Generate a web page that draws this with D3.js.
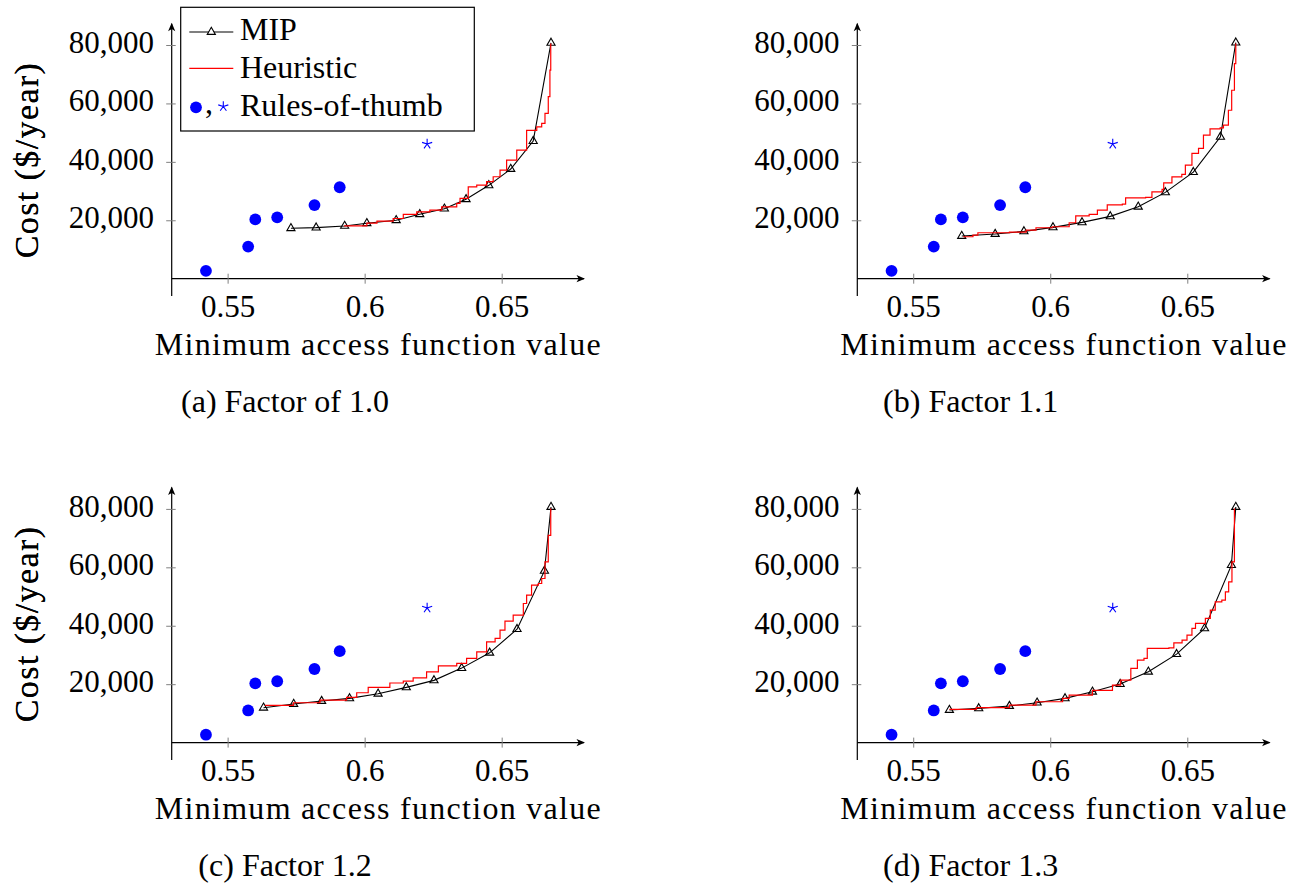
<!DOCTYPE html>
<html>
<head>
<meta charset="utf-8">
<script src="https://cdn.jsdelivr.net/npm/d3@7"></script>
<style>
  html, body { margin: 0; padding: 0; background: #fff; }
  svg { display: block; }
</style>
</head>
<body>
<script>
// Rules-of-thumb solutions (same in every panel)
const dotX = [0.5421, 0.5575, 0.5601, 0.5681, 0.5817, 0.5909];
const dotY = [2700, 11000, 20300, 21000, 25200, 31300];
const starX = [0.6228];
const starY = [46100];

// (a) Factor of 1.0
const mipXA = [0.5731, 0.5823, 0.5927, 0.6008, 0.6115, 0.6201, 0.6291, 0.6370, 0.6453, 0.6533, 0.6615, 0.6680];
const mipYA = [17260, 17470, 18050, 18970, 20000, 22050, 23970, 27180, 31960, 37540, 47110, 80720];
const heurXA = [0.5925, 0.6008, 0.6045, 0.6104, 0.6141, 0.6190, 0.6238, 0.6281, 0.6336, 0.6348, 0.6378, 0.6409, 0.6445, 0.6469, 0.6494, 0.6518, 0.6555, 0.6591, 0.6591, 0.6628, 0.6646, 0.6658, 0.6670, 0.6676, 0.6679];
const heurYA = [18100, 19000, 19700, 20600, 22000, 22900, 23500, 24600, 25800, 27500, 31400, 32000, 33200, 34900, 37200, 40600, 44000, 48500, 50800, 52000, 53200, 56600, 62300, 71400, 80500];

// (b) Factor 1.1
const mipXB = [0.5677, 0.5799, 0.5904, 0.6010, 0.6116, 0.6219, 0.6321, 0.6420, 0.6522, 0.6621, 0.6677];
const mipYB = [14600, 15280, 16200, 17570, 19280, 21330, 24620, 29540, 36480, 48550, 80820];
const heurXB = [0.5682, 0.5718, 0.5736, 0.5851, 0.5912, 0.5948, 0.6008, 0.6069, 0.6093, 0.6142, 0.6172, 0.6208, 0.6263, 0.6275, 0.6348, 0.6371, 0.6408, 0.6414, 0.6444, 0.6480, 0.6493, 0.6517, 0.6541, 0.6559, 0.6583, 0.6620, 0.6632, 0.6650, 0.6662, 0.6672, 0.6677];
const heurYB = [14360, 14940, 15730, 15970, 16650, 17440, 17780, 19150, 21540, 22020, 23490, 25300, 25540, 27690, 27830, 29740, 30560, 32820, 34870, 35690, 38870, 42870, 44580, 49130, 51280, 51620, 52550, 57670, 64510, 73640, 80480];

// (c) Factor 1.2
const mipXC = [0.5631, 0.5741, 0.5843, 0.5945, 0.6049, 0.6152, 0.6253, 0.6354, 0.6456, 0.6556, 0.6656, 0.6680];
const mipYC = [11930, 13200, 14220, 15140, 16720, 18900, 21300, 25500, 30740, 38840, 58770, 80650];
const heurXC = [0.5636, 0.5740, 0.5837, 0.5934, 0.5971, 0.6013, 0.6092, 0.6141, 0.6177, 0.6226, 0.6269, 0.6336, 0.6372, 0.6409, 0.6445, 0.6476, 0.6494, 0.6512, 0.6542, 0.6579, 0.6591, 0.6609, 0.6634, 0.6646, 0.6658, 0.6670, 0.6679];
const heurYC = [12750, 13650, 14560, 15480, 17060, 18900, 20400, 21060, 22190, 24240, 26290, 27110, 28820, 31080, 34500, 35660, 38500, 41570, 43620, 47620, 50460, 53880, 54460, 56170, 61850, 70970, 80100];

// (d) Factor 1.3
const mipXD = [0.5632, 0.5739, 0.5851, 0.5952, 0.6054, 0.6154, 0.6255, 0.6358, 0.6461, 0.6563, 0.6661, 0.6677];
const mipYD = [11150, 11720, 12510, 13650, 15140, 17400, 20030, 24240, 30290, 39080, 60720, 80650];
const heurXD = [0.5632, 0.5730, 0.5851, 0.5948, 0.6045, 0.6069, 0.6154, 0.6227, 0.6257, 0.6294, 0.6318, 0.6342, 0.6354, 0.6433, 0.6451, 0.6481, 0.6499, 0.6517, 0.6530, 0.6566, 0.6584, 0.6602, 0.6626, 0.6639, 0.6651, 0.6663, 0.6672];
const heurYD = [11380, 11940, 12850, 13990, 15140, 16270, 17900, 19690, 21400, 25400, 28240, 28820, 32240, 32440, 34150, 35080, 36790, 39080, 40790, 42500, 45330, 48170, 48750, 51590, 55010, 61850, 80100];

// Axis ticks and text
const xTicks = [0.55, 0.6, 0.65];
const yTicks = [20000, 40000, 60000, 80000];
const captions = ["(a) Factor of 1.0", "(b) Factor 1.1", "(c) Factor 1.2", "(d) Factor 1.3"];
const xTitle = "Minimum access function value";
const yTitle = "Cost ($/year)";
const legendLabels = ["MIP", "Heuristic", "Rules-of-thumb"];

const SERIF = "'Liberation Serif', 'Times New Roman', serif";
const W = 1303, H = 886;
const svg = d3.select("body").append("svg").attr("width", W).attr("height", H);

const xDomain = [0.5296, 0.6804];
const plotW = 413.3;
const yPxPer = 233.7 / 80000;

const zip = (xs, ys) => xs.map((v, i) => [v, ys[i]]);

function addText(g, size) {
  return g.append("text")
    .attr("font-family", SERIF)
    .style("font-family", SERIF)
    .style("font-size", size + "px")
    .attr("fill", "#000");
}

function arrowHead(g, x, y, dir) {
  const L = 8.5, hw = 3.6, inset = 2.2;
  let p;
  if (dir === "right") {
    p = `M${x},${y} L${x - L},${y - hw} L${x - L + inset},${y} L${x - L},${y + hw} Z`;
  } else {
    p = `M${x},${y} L${x - hw},${y + L} L${x},${y + L - inset} L${x + hw},${y + L} Z`;
  }
  g.append("path").attr("d", p).attr("fill", "#000");
}

function triPath(r) {
  const a = r * Math.sqrt(3) / 2;
  return `M0,${-r} L${a},${r / 2} L${-a},${r / 2} Z`;
}

function starPath(r) {
  let d = "";
  for (let k = 0; k < 5; k++) {
    const ang = (90 + 72 * k) * Math.PI / 180;
    d += `M0,0 L${(r * Math.cos(ang)).toFixed(2)},${(-r * Math.sin(ang)).toFixed(2)} `;
  }
  return d;
}

function drawPanel(left, base, mipX, mipY, heurX, heurY, caption, withLegend) {
  const g = svg.append("g");
  const x = d3.scaleLinear().domain(xDomain).range([left, left + plotW]);
  const y = d3.scaleLinear().domain([0, 80000]).range([base, base - 80000 * yPxPer]);

  // axis lines with arrows
  g.append("line").attr("x1", left).attr("x2", left + plotW - 1)
    .attr("y1", base).attr("y2", base).attr("stroke", "#000").attr("stroke-width", 1.2);
  arrowHead(g, left + plotW, base, "right");
  g.append("line").attr("x1", left).attr("x2", left)
    .attr("y1", base + 17.3).attr("y2", base - 255).attr("stroke", "#000").attr("stroke-width", 1.2);
  arrowHead(g, left, base - 256, "up");

  // x axis ticks and labels
  const xa = g.append("g").attr("transform", `translate(0,${base})`)
    .call(d3.axisBottom(x).tickValues(xTicks).tickFormat(d3.format("")).tickSize(5).tickPadding(0));
  xa.attr("font-family", SERIF).attr("font-size", 31);
  xa.select(".domain").remove();
  xa.selectAll(".tick line").attr("y1", -5).attr("y2", 5).attr("stroke", "#808080").attr("stroke-width", 1);
  xa.selectAll(".tick text").attr("y", 38).attr("dy", null)
    .style("font-family", SERIF).style("font-size", "31px").attr("fill", "#000");

  // y axis ticks and labels
  const ya = g.append("g").attr("transform", `translate(${left},0)`)
    .call(d3.axisLeft(y).tickValues(yTicks).tickFormat(d3.format(",")).tickSize(5).tickPadding(12.7));
  ya.attr("font-family", SERIF).attr("font-size", 31);
  ya.select(".domain").remove();
  ya.selectAll(".tick line").attr("x1", 4).attr("x2", -5.5).attr("stroke", "#808080").attr("stroke-width", 1);
  ya.selectAll(".tick text").attr("dy", "0.24em")
    .style("font-family", SERIF).style("font-size", "31px").attr("fill", "#000");

  // titles
  addText(g, 32).attr("x", left + 206.7).attr("y", base + 76.3)
    .attr("text-anchor", "middle").style("letter-spacing", "1.3px").text(xTitle);
  addText(g, 34).attr("transform", `translate(38,${base - 118.7}) rotate(-90)`)
    .attr("text-anchor", "middle").style("letter-spacing", "1.4px").text(yTitle);
  addText(g, 32).attr("x", left + 113.3).attr("y", base + 133)
    .attr("text-anchor", "middle").text(caption);

  // MIP
  const line = d3.line().x(d => x(d[0])).y(d => y(d[1]));
  const mip = zip(mipX, mipY);
  g.append("path").attr("d", line(mip)).attr("fill", "none").attr("stroke", "#000").attr("stroke-width", 1.1);
  g.selectAll(".mip").data(mip).join("path").attr("class", "mip")
    .attr("transform", d => `translate(${x(d[0])},${y(d[1])})`)
    .attr("d", triPath(4.7)).attr("fill", "none").attr("stroke", "#000").attr("stroke-width", 1.1);

  // Heuristic
  const step = d3.line().curve(d3.curveStepAfter).x(d => x(d[0])).y(d => y(d[1]));
  g.append("path").attr("d", step(zip(heurX, heurY))).attr("fill", "none")
    .attr("stroke", "#ff0000").attr("stroke-width", 1.2);

  // Rules-of-thumb
  g.selectAll(".dot").data(zip(dotX, dotY)).join("circle").attr("class", "dot")
    .attr("cx", d => x(d[0])).attr("cy", d => y(d[1])).attr("r", 5.9).attr("fill", "#0000ff");
  g.selectAll(".star").data(zip(starX, starY)).join("path").attr("class", "star")
    .attr("transform", d => `translate(${x(d[0])},${y(d[1])})`)
    .attr("d", starPath(5.3)).attr("fill", "none").attr("stroke", "#0000ff").attr("stroke-width", 1.1);

  if (withLegend) {
    const lg = svg.append("g");
    lg.append("rect").attr("x", 180.7).attr("y", 7.3).attr("width", 293.6).attr("height", 123.7)
      .attr("fill", "#fff").attr("stroke", "#000").attr("stroke-width", 1.2);
    lg.append("line").attr("x1", 189.3).attr("x2", 233.3).attr("y1", 32).attr("y2", 32)
      .attr("stroke", "#000").attr("stroke-width", 1.1);
    lg.append("path").attr("transform", "translate(211.3,32)").attr("d", triPath(4.7))
      .attr("fill", "#fff").attr("stroke", "#000").attr("stroke-width", 1.1);
    lg.append("line").attr("x1", 189.3).attr("x2", 233.3).attr("y1", 68.3).attr("y2", 68.3)
      .attr("stroke", "#ff0000").attr("stroke-width", 1.2);
    lg.append("circle").attr("cx", 196).attr("cy", 107.3).attr("r", 5.9).attr("fill", "#0000ff");
    addText(lg, 32).attr("x", 205).attr("y", 113).text(",");
    lg.append("path").attr("transform", "translate(223.3,106.5)").attr("d", starPath(5.3))
      .attr("fill", "none").attr("stroke", "#0000ff").attr("stroke-width", 1.1);
    const ty = [40, 78.3, 115.7];
    legendLabels.forEach((t, i) => {
      addText(lg, 32).attr("x", 240).attr("y", ty[i]).text(t);
    });
  }
}

drawPanel(171.7, 278.7, mipXA, mipYA, heurXA, heurYA, captions[0], true);
drawPanel(857.3, 278.7, mipXB, mipYB, heurXB, heurYB, captions[1], false);
drawPanel(171.7, 742.6, mipXC, mipYC, heurXC, heurYC, captions[2], false);
drawPanel(857.3, 742.6, mipXD, mipYD, heurXD, heurYD, captions[3], false);
</script>
</body>
</html>
